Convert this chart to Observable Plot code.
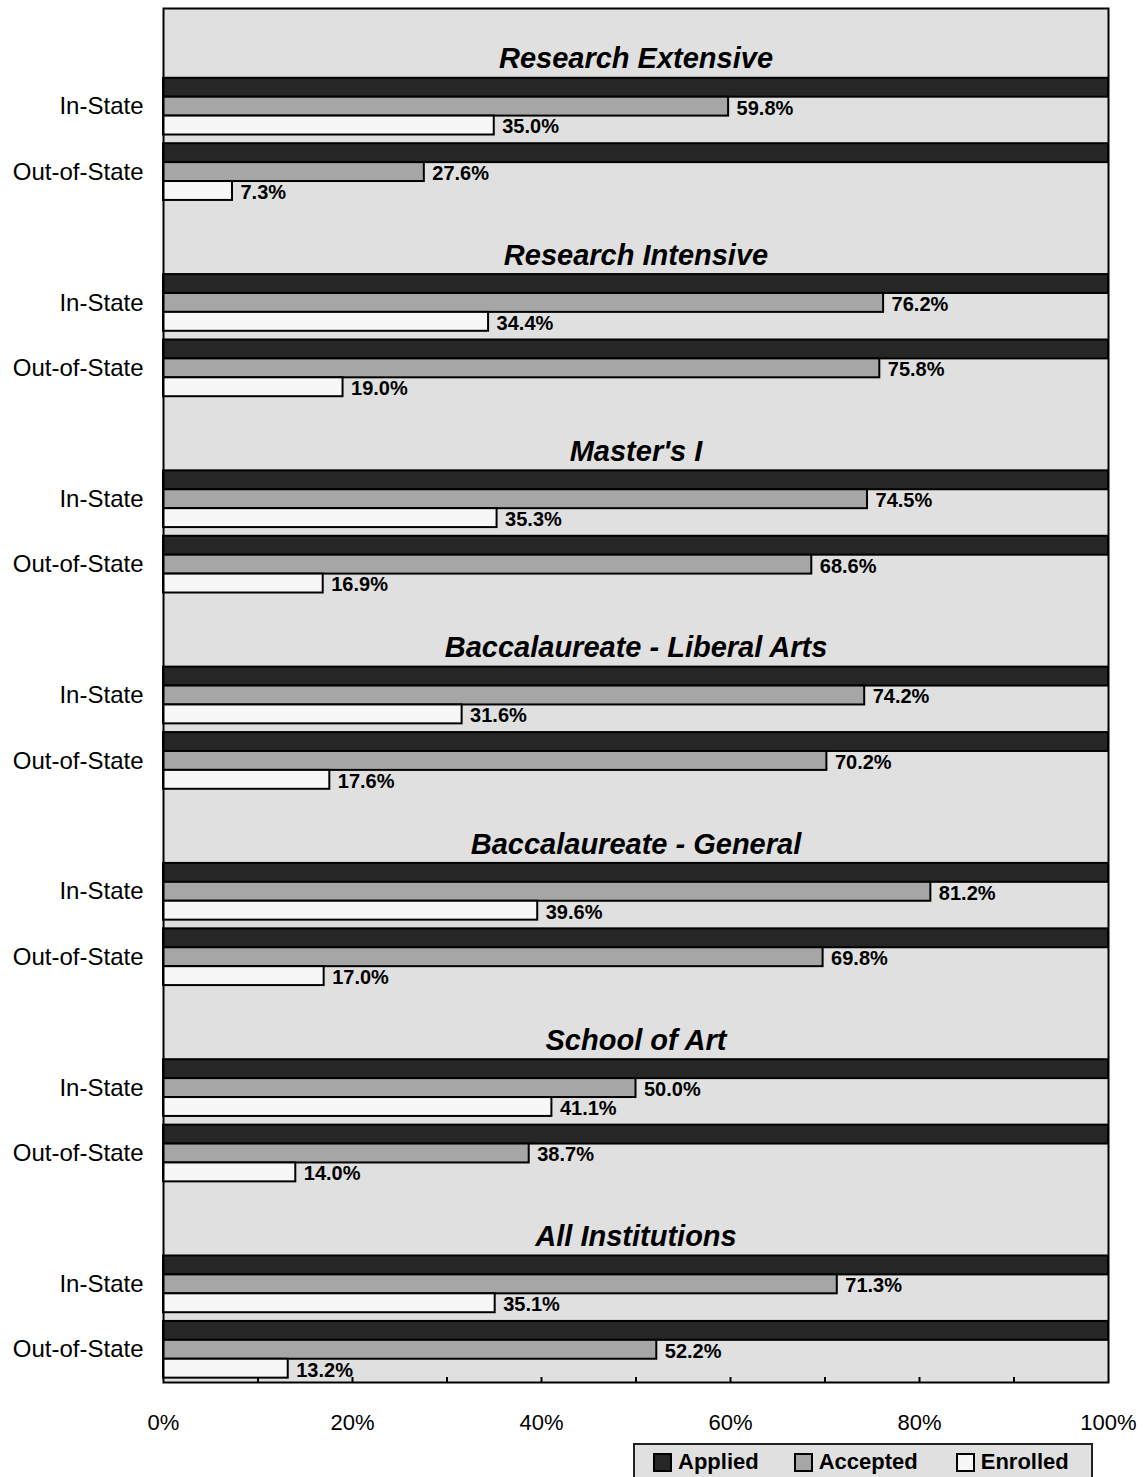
<!DOCTYPE html>
<html>
<head>
<meta charset="utf-8">
<script src="https://cdn.jsdelivr.net/npm/d3@7"></script>
<script src="https://cdn.jsdelivr.net/npm/@observablehq/plot@0.6"></script>
<style>
  body { margin: 0; background: #fff; font-family: Arial, "Liberation Sans", sans-serif; }
  #legend {
    margin-left: 633px; margin-top: 3px; width: 456px; height: 40px;
    background: #e0e0e0; border: 2px solid #222; box-sizing: content-box;
    display: flex; align-items: flex-start; padding-top: 0;
    font-weight: bold; font-size: 22px; color: #000;
  }
  #legend .item { display: flex; align-items: center; height: 34px; }
  #legend .sw { width: 15px; height: 15px; border: 2px solid #000; margin-right: 6px; }
</style>
</head>
<body>
<div id="chart"></div>
<div id="legend"></div>
<script>
const groups = ["Research Extensive", "Research Intensive", "Master's I", "Baccalaureate - Liberal Arts", "Baccalaureate - General", "School of Art", "All Institutions"];
const residency = ["In-State", "Out-of-State"];
const series = ["Applied", "Accepted", "Enrolled"];
const appliedIn  = [100, 100, 100, 100, 100, 100, 100];
const appliedOut = [100, 100, 100, 100, 100, 100, 100];
const acceptedIn  = [59.8, 76.2, 74.5, 74.2, 81.2, 50.0, 71.3];
const acceptedOut = [27.6, 75.8, 68.6, 70.2, 69.8, 38.7, 52.2];
const enrolledIn  = [35.0, 34.4, 35.3, 31.6, 39.6, 41.1, 35.1];
const enrolledOut = [7.3, 19.0, 16.9, 17.6, 17.0, 14.0, 13.2];
const xTicks = [0, 20, 40, 60, 80, 100];
const xMinorTicks = [10, 20, 30, 40, 50, 60, 70, 80, 90];

const colors = {Applied: "#262626", Accepted: "#a6a6a6", Enrolled: "#f7f7f7"};

// Row keys: title row + In-State + Out-of-State per group
const rows = [];
const rowLabel = {};
groups.forEach((g, i) => {
  rows.push(`${i}|t`); rowLabel[`${i}|t`] = "";
  residency.forEach((r, j) => { const k = `${i}|${j}`; rows.push(k); rowLabel[k] = r; });
});

const values = {
  Applied: [appliedIn, appliedOut],
  Accepted: [acceptedIn, acceptedOut],
  Enrolled: [enrolledIn, enrolledOut]
};
const data = [];
groups.forEach((g, i) => residency.forEach((r, j) => series.forEach((s, si) => {
  data.push({row: `${i}|${j}`, series: s, si, value: values[s][j][i]});
})));
const titles = groups.map((g, i) => ({row: `${i}|t`, name: g}));

const width = 1146, height = 1440;
const marginTop = 8, marginBottom = 58, marginLeft = 163, marginRight = 38;
const plotH = height - marginTop - marginBottom;
const padInner = 0.133;
const step = plotH / rows.length;
const bw = step * (1 - padInner);
const third = bw / 3;

const barMarks = series.map((s, si) =>
  Plot.barX(data.filter(d => d.series === s), {
    x: "value", y: "row", fill: colors[s], stroke: "#000", strokeWidth: 2,
    insetTop: si * third, insetBottom: (2 - si) * third
  })
);
const labelMarks = ["Accepted", "Enrolled"].map(s => {
  const si = series.indexOf(s);
  return Plot.text(data.filter(d => d.series === s), {
    x: "value", y: "row", text: d => d.value.toFixed(1) + "%",
    textAnchor: "start", dx: 8, dy: (si - 1) * third + 1.5,
    fontWeight: "bold", fontSize: 20, fill: "#000"
  });
});

const chart = Plot.plot({
  width, height, marginTop, marginBottom, marginLeft, marginRight,
  style: {fontFamily: "Arial, 'Liberation Sans', sans-serif", color: "#000", background: "#fff"},
  x: {domain: [0, 100]},
  y: {domain: rows, paddingInner: padInner, paddingOuter: padInner / 2, round: false},
  marks: [
    Plot.frame({fill: "#e0e0e0", stroke: "none"}),
    ...barMarks,
    ...labelMarks,
    Plot.text(titles, {x: () => 50, y: "row", text: "name", dy: 18, fontSize: 29, fontWeight: "bold", fontStyle: "italic", fill: "#000"}),
    Plot.ruleX(xMinorTicks, {stroke: "#000", strokeWidth: 2, insetTop: plotH - 5}),
    Plot.frame({stroke: "#000", strokeWidth: 2}),
    Plot.axisX({ticks: xTicks, tickSize: 0, tickPadding: 32, tickFormat: d => d + "%", fontSize: 22, label: null}),
    Plot.axisY({tickSize: 0, tickPadding: 20, tickFormat: k => rowLabel[k], fontSize: 24, label: null})
  ]
});
document.getElementById("chart").appendChild(chart);

const legend = d3.select("#legend");
const legendGaps = [18, 35, 38];
series.forEach((s, i) => {
  const it = legend.append("div").attr("class", "item").style("margin-left", legendGaps[i] + "px");
  it.append("div").attr("class", "sw").style("background", colors[s]);
  it.append("span").text(s);
});
</script>
</body>
</html>
